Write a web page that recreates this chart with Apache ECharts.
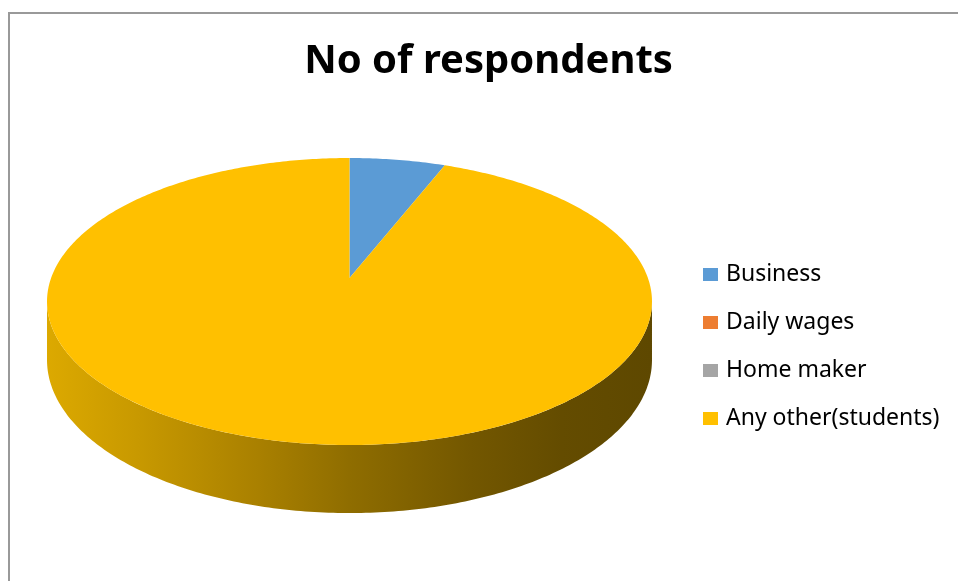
<!DOCTYPE html>
<html>
<head>
<meta charset="utf-8">
<title>No of respondents</title>
<script src="https://cdn.jsdelivr.net/npm/echarts@6/dist/echarts.min.js"></script>
<style>
  html, body { margin: 0; padding: 0; background: #ffffff; }
  #chart { width: 958px; height: 581px; }
</style>
</head>
<body>
<div id="chart"></div>
<script>
// Occupation of respondents
const categories = ['Business', 'Daily wages', 'Home maker', 'Any other(students)'];
const respondents = [3, 0, 0, 47];
const sliceColors = ['#5B9BD5', '#ED7D31', '#A5A5A5', '#FFC000'];

// Perspective disc geometry (screen pixels)
const CX = 349.5, CY = 278;     // projected centre of the disc
const RX = 298.4, RY = 139.65;  // horizontal / depth radii
const PERSP = 0.1638;           // perspective strength (far edge shrinks)
const DEPTH = 56.9;             // thickness of the disc wall

// project an angle (clockwise from the far point) onto the screen; drop moves it down the wall
function project(theta, drop) {
  const c = Math.cos(theta), s = Math.sin(theta);
  const w = 1 + PERSP * c;
  return [CX + RX * s / w, CY - RY * c / w + drop / w];
}

function arcPoints(a0, a1, drop) {
  const pts = [];
  const steps = Math.max(2, Math.ceil((a1 - a0) / (Math.PI / 240)));
  for (let i = 0; i <= steps; i++) pts.push(project(a0 + (a1 - a0) * i / steps, drop));
  return pts;
}

// the wall is seen between the two silhouette angles on the near side
const SIL_L = Math.acos(-PERSP);
const SIL_R = 2 * Math.PI - SIL_L;

const wallFill = {
  type: 'linear', x: 47, y: 0, x2: 652, y2: 0, global: true,
  colorStops: [
    { offset: 0.00, color: '#DCA900' },
    { offset: 0.15, color: '#C89900' },
    { offset: 0.35, color: '#A98000' },
    { offset: 0.50, color: '#8F6D00' },
    { offset: 0.70, color: '#735700' },
    { offset: 0.85, color: '#644C00' },
    { offset: 1.00, color: '#5E4800' }
  ]
};

const total = respondents.reduce((a, b) => a + b, 0);
let running = 0;
const series = categories.map((name, i) => {
  const start = running / total;
  running += respondents[i];
  const end = running / total;
  return {
    type: 'custom',
    name: name,
    coordinateSystem: 'none',
    itemStyle: { color: sliceColors[i] },
    data: [[start, end]],
    renderItem: function (params, api) {
      const a0 = api.value(0) * 2 * Math.PI;
      const a1 = api.value(1) * 2 * Math.PI;
      const children = [];
      if (a1 - a0 <= 0) return { type: 'group', children: children };
      // wall
      const s = Math.max(a0, SIL_L), e = Math.min(a1, SIL_R);
      if (e > s) {
        const top = arcPoints(s, e, 0);
        const bottom = arcPoints(s, e, DEPTH).reverse();
        children.push({
          type: 'polygon',
          shape: { points: top.concat(bottom) },
          style: { fill: wallFill, stroke: null }
        });
      }
      // top face
      const face = [[CX, CY]].concat(arcPoints(a0, a1, 0));
      children.push({
        type: 'polygon',
        shape: { points: face },
        style: { fill: api.visual('color'), stroke: null }
      });
      return { type: 'group', children: children };
    }
  };
});

const chart = echarts.init(document.getElementById('chart'), null, { renderer: 'canvas' });
chart.setOption({
  animation: false,
  backgroundColor: '#ffffff',
  title: {
    text: 'No of respondents',
    left: 488.5,
    top: 41.5,
    padding: 0,
    textAlign: 'center',
    textStyle: {
      fontFamily: 'Noto Sans',
      fontWeight: 'bold',
      fontSize: 40,
      color: '#000000'
    }
  },
  legend: {
    orient: 'vertical',
    left: 703,
    top: 256,
    padding: 0,
    icon: 'rect',
    itemWidth: 15,
    itemHeight: 13,
    itemGap: 11,
    data: categories,
    textStyle: {
      fontFamily: 'Noto Sans',
      fontSize: 23,
      lineHeight: 24,
      color: '#000000',
      padding: [0, 0, 13, 3]
    }
  },
  graphic: [{
    type: 'rect',
    silent: true,
    shape: { x: 9, y: 13, width: 960, height: 600 },
    style: { fill: null, stroke: '#999999', lineWidth: 2 }
  }],
  series: series
});
</script>
</body>
</html>
